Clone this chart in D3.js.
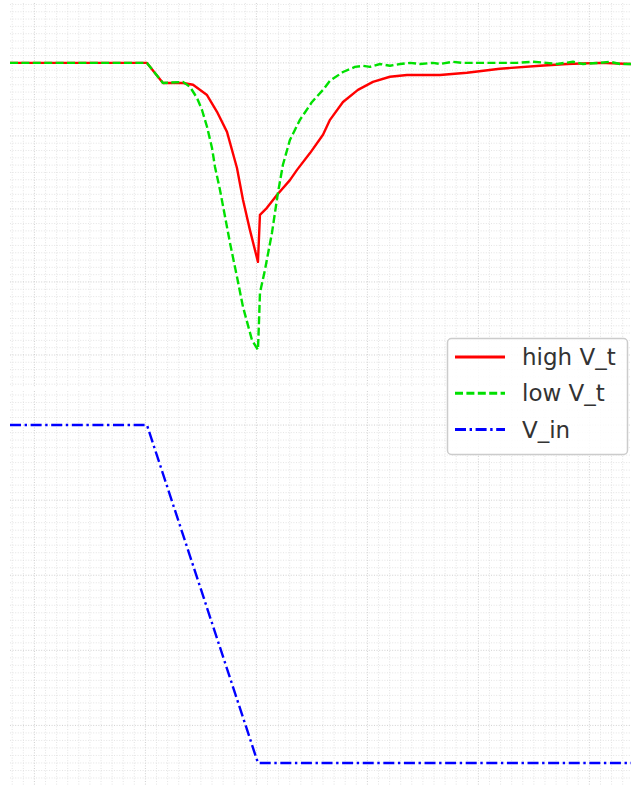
<!DOCTYPE html>
<html>
<head>
<meta charset="utf-8">
<script src="https://cdn.jsdelivr.net/npm/d3@7"></script>
<style>
  html, body { margin: 0; padding: 0; background: #fff; }
  svg { display: block; }
</style>
</head>
<body>
<svg id="chart" width="631" height="785"></svg>
<script>
// Transient response of two inverters (high / low threshold) to a falling input ramp.
// Time in ns, voltages in V.

const timeHigh = [-0.22, 1.014, 1.158, 1.339, 1.429, 1.555, 1.645, 1.735, 1.825, 1.879, 1.942, 2.014,
  2.032, 2.095, 2.185, 2.302, 2.366, 2.483, 2.600, 2.663, 2.780, 2.915, 3.050, 3.203, 3.357, 3.654,
  3.897, 4.194, 4.555, 4.798, 5.095, 5.375];
const voltHigh = [1.0, 1.0, 0.945, 0.945, 0.940, 0.912, 0.866, 0.811, 0.712, 0.625, 0.542, 0.455,
  0.584, 0.603, 0.638, 0.679, 0.707, 0.753, 0.803, 0.844, 0.893, 0.926, 0.948, 0.962, 0.967, 0.967,
  0.973, 0.984, 0.992, 0.997, 1.0, 0.997];

const timeLow = [-0.22, 1.014, 1.158, 1.339, 1.402, 1.465, 1.510, 1.555, 1.600, 1.627, 1.672, 1.762,
  1.825, 1.879, 1.960, 2.014, 2.023, 2.032, 2.077, 2.140, 2.194, 2.239, 2.302, 2.392, 2.501, 2.600,
  2.663, 2.780, 2.888, 2.960, 3.023, 3.113, 3.203, 3.294, 3.384, 3.474, 3.591, 3.654, 3.771, 3.861,
  3.951, 4.077, 4.194, 4.347, 4.492, 4.618, 4.708, 4.852, 4.942, 5.095, 5.185, 5.275, 5.375];
const voltLow = [1.0, 1.0, 0.945, 0.948, 0.934, 0.904, 0.871, 0.825, 0.767, 0.715, 0.652, 0.507,
  0.414, 0.332, 0.241, 0.214, 0.288, 0.370, 0.433, 0.534, 0.644, 0.721, 0.789, 0.844, 0.893, 0.926,
  0.951, 0.975, 0.989, 0.992, 0.989, 0.997, 0.992, 0.997, 1.0, 0.997, 1.0, 0.997, 1.003, 1.0,
  1.0, 1.0, 1.0, 1.0, 1.003, 1.0, 0.997, 1.003, 0.997, 1.0, 1.003, 0.997, 0.997];

const timeIn = [-0.22, 1.014, 2.014, 5.375];
const voltIn = [1.0, 1.0, 0.1, 0.1];

const seriesNames = ["high V_t", "low V_t", "V_in"];
const seriesColors = ["#ff0000", "#00e000", "#0000ff"];
const seriesDashes = [null, "8,3.4", "11,3.6,2.4,3.6"];

const svg = d3.select("#chart");
const W = 631;

// shared time axis
const x = d3.scaleLinear().domain([-0.22, 5.375]).range([10, W]);

// panels: top = outputs, bottom = input
const panels = [
  { y0: 3, y1: 387, y: d3.scaleLinear().domain([1.164, 0.1096]).range([3, 388]) },
  { y0: 391, y1: 785, y: d3.scaleLinear().domain([1.0907, 0.0413]).range([391, 785]) }
];

function drawGrid(p) {
  const g = svg.append("g");
  const [ya, yb] = p.y.domain();
  const vLo = Math.min(ya, yb), vHi = Math.max(ya, yb);
  const xs = d3.range(-0.2, 5.4001, 0.1).map(v => +v.toFixed(2));
  const ys = d3.range(Math.ceil(vLo / 0.02) * 0.02, vHi + 1e-9, 0.02).map(v => +v.toFixed(2));
  const isMajorX = v => Math.abs(v - Math.round(v)) < 1e-6;
  const isMajorY = v => Math.abs(v / 0.2 - Math.round(v / 0.2)) < 1e-6;

  g.selectAll("line.gx").data(xs).join("line")
    .attr("x1", d => x(d)).attr("x2", d => x(d))
    .attr("y1", p.y0).attr("y2", p.y1)
    .attr("stroke", d => isMajorX(d) ? "#c4c4c4" : "#dddddd")
    .attr("stroke-width", 0.8)
    .attr("stroke-dasharray", "1,1.6");
  g.selectAll("line.gy").data(ys).join("line")
    .attr("x1", 10).attr("x2", W)
    .attr("y1", d => p.y(d)).attr("y2", d => p.y(d))
    .attr("stroke", d => isMajorY(d) ? "#c4c4c4" : "#dddddd")
    .attr("stroke-width", 0.8)
    .attr("stroke-dasharray", "1,1.6");
}
panels.forEach(drawGrid);

function drawSeries(p, ts, vs, i) {
  const line = d3.line().x(d => x(d[0])).y(d => p.y(d[1]));
  svg.append("path")
    .datum(d3.zip(ts, vs))
    .attr("d", line)
    .attr("fill", "none")
    .attr("stroke", seriesColors[i])
    .attr("stroke-width", 2.4)
    .attr("stroke-linejoin", "round")
    .attr("stroke-dasharray", seriesDashes[i]);
}
drawSeries(panels[0], timeHigh, voltHigh, 0);
drawSeries(panels[0], timeLow, voltLow, 1);
drawSeries(panels[1], timeIn, voltIn, 2);

// legend
const lg = svg.append("g");
lg.append("rect")
  .attr("x", 447.5).attr("y", 338.5).attr("width", 180).attr("height", 116)
  .attr("rx", 4).attr("ry", 4)
  .attr("fill", "#fff").attr("fill-opacity", 0.85)
  .attr("stroke", "#cccccc").attr("stroke-width", 1.5);
seriesNames.forEach((name, i) => {
  const cy = 357 + i * 36.3;
  lg.append("line")
    .attr("x1", 455).attr("x2", 505).attr("y1", cy).attr("y2", cy)
    .attr("stroke", seriesColors[i]).attr("stroke-width", 3)
    .attr("stroke-dasharray", seriesDashes[i]);
  lg.append("text")
    .attr("x", 522).attr("y", cy + 8)
    .attr("font-family", "DejaVu Sans, sans-serif")
    .attr("font-size", 23)
    .attr("fill", "#333")
    .text(name);
});
</script>
</body>
</html>
